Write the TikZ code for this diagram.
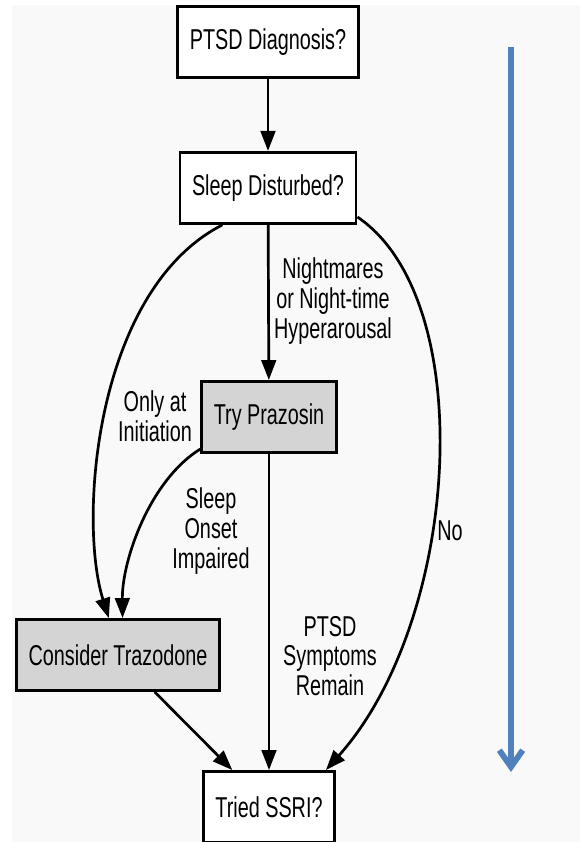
\documentclass[tikz,border=0pt]{standalone}
\usepackage{fontspec}
\setmainfont[FakeStretch=0.69]{Liberation Sans}
\usepackage{xcolor}
\usetikzlibrary{arrows.meta,positioning,calc}
\definecolor{bgpage}{HTML}{F9F9F9}
\definecolor{boxgray}{HTML}{D4D4D4}
\definecolor{timeblue}{HTML}{4F81BD}

\begin{document}
\begin{tikzpicture}[
    x=0.03cm, y=-0.03cm,
    font=\fontsize{24.5}{25.5}\selectfont,
    >={Triangle[length=0.6cm,width=0.44cm]},
    box/.style={draw, fill=white, line width=2.5pt, minimum height=2.13cm, inner xsep=0.36cm, align=center},
    shaded/.style={box, fill=boxgray},
    arr/.style={->, line width=2.3pt},
    lbl/.style={align=center, inner sep=0pt}
]
    \useasboundingbox (0,0) rectangle (580,842);
    \fill[bgpage] (12,5) rectangle (580,842);

    \node[box] (ptsd) at (268,42) {PTSD Diagnosis?};
    \node[box, below=2.16cm of ptsd] (sleep) {Sleep Disturbed?};
    \node[shaded] (prazosin) at (269,417) {Try Prazosin};
    \node[shaded] (trazodone) at (118,655) {Consider Trazodone};
    \node[box] (ssri) at (269,807) {Tried SSRI?};

    % edge labels
    \node[lbl] (lnight) at (333,301) {Nightmares\\or Night-time\\Hyperarousal};
    \node[lbl] (linit) at (155,416) {Only at\\Initiation};
    \node[lbl] (lonset) at (211,531) {Sleep\\Onset\\Impaired};
    \node[lbl] (lremain) at (330,656) {PTSD\\Symptoms\\Remain};
    \node[lbl] (lno) at (450,531) {No};

    \draw[arr] (ptsd) -- (sleep);
    \draw[arr] (sleep) -- (prazosin);
    \draw[arr] (sleep.-141) .. controls (95,290) and (78,520) .. (trazodone.104);
    \draw[arr] (prazosin.-155) .. controls (150,480) and (122,560) .. (trazodone.83);
    \draw[arr] (sleep.-18) .. controls (480,300) and (460,620) .. (ssri.33);
    \draw[arr] (prazosin) -- (ssri);
    \draw[arr] (trazodone) -- (ssri);

    % time arrow
    \coordinate (tstart) at (511,47);
    \coordinate (tend) at (511,772);
    \draw[timeblue, line width=5pt, -{Straight Barb[length=0.5cm,width=0.7cm]}] (tstart) -- (tend);
\end{tikzpicture}
\end{document}
